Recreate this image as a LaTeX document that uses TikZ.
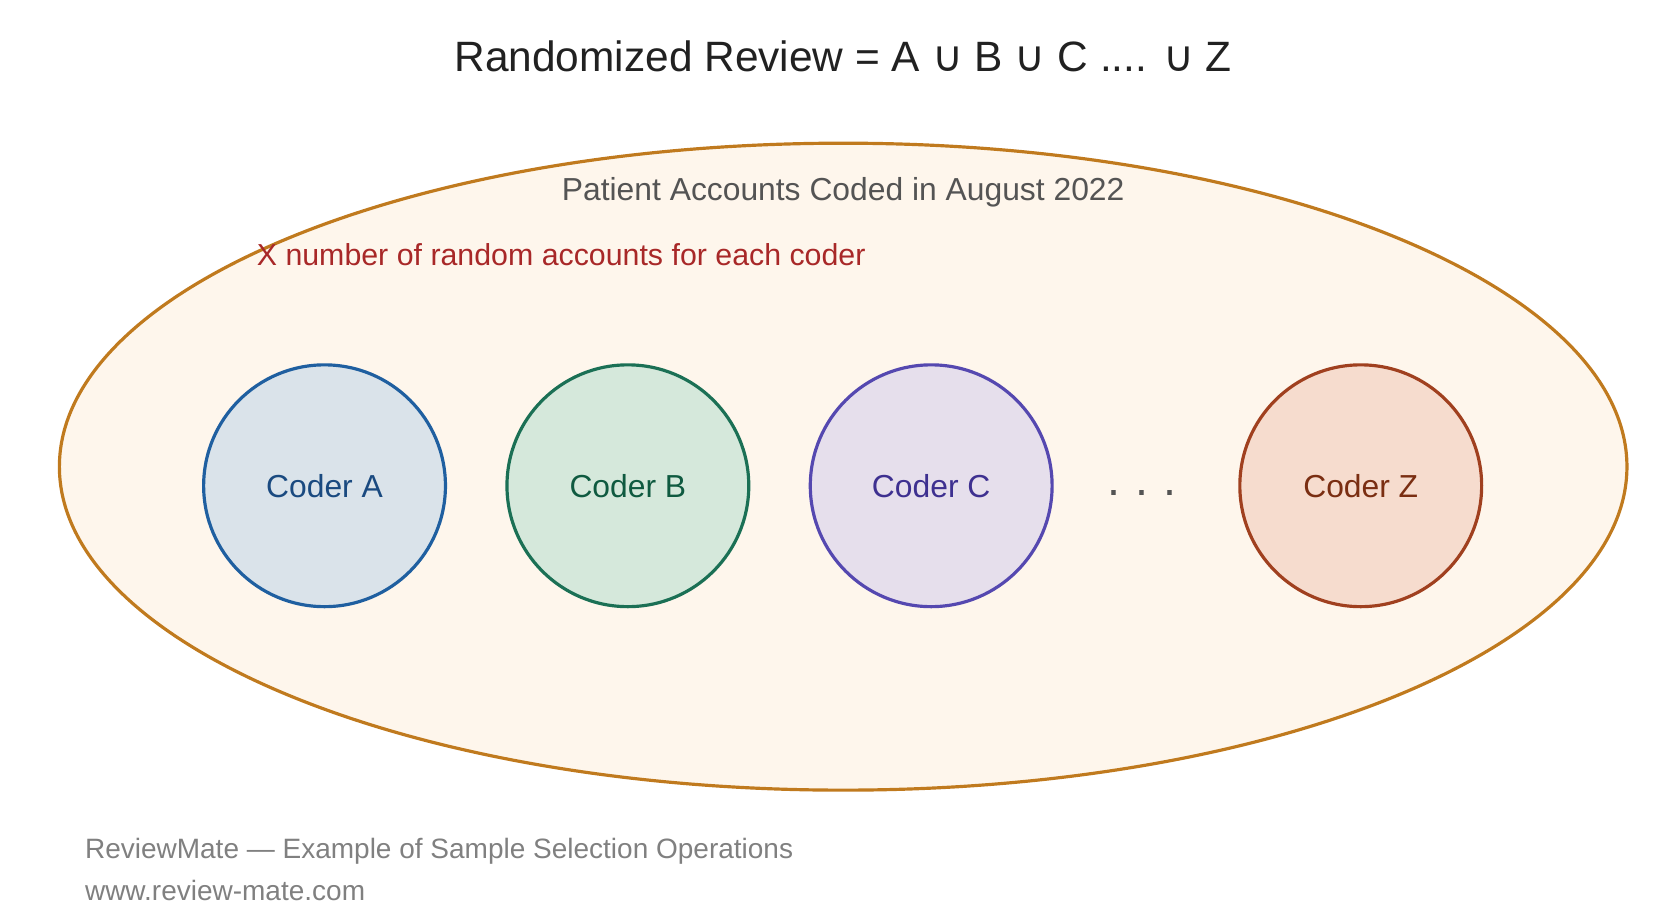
\documentclass[tikz,border=0pt]{standalone}
\usepackage{fontspec}
\setmainfont{Liberation Sans}
\newfontfamily\symf{DejaVu Sans}
\newcommand{\cupsym}{{\symf ∪}}
\usetikzlibrary{shapes.geometric}
\definecolor{ebord}{HTML}{C07A1E}\definecolor{efill}{HTML}{FEF6EC}
\definecolor{aF}{HTML}{DAE3EA}\definecolor{aS}{HTML}{1F5FA0}\definecolor{aT}{HTML}{1A4A80}
\definecolor{bF}{HTML}{D5E8DB}\definecolor{bS}{HTML}{1B7055}\definecolor{bT}{HTML}{0F5A40}
\definecolor{cF}{HTML}{E6DFEC}\definecolor{cS}{HTML}{5548B0}\definecolor{cT}{HTML}{3E3090}
\definecolor{zF}{HTML}{F6DCCE}\definecolor{zS}{HTML}{A0401F}\definecolor{zT}{HTML}{7A2E12}
\definecolor{redt}{HTML}{A82828}
\begin{document}
\begin{tikzpicture}[x=1pt,y=-1pt,
  coder/.style={circle,minimum size=228pt,inner sep=0pt,line width=3pt,font=\fontsize{30}{36}\selectfont}]
\useasboundingbox (0,0) rectangle (1568,865);
\node[text=black!87] (title) at (795,53) {\fontsize{40}{48}\selectfont Randomized Review = A \cupsym\ B \cupsym\ C .... \cupsym\ Z};
\node[ellipse,draw=ebord,fill=efill,line width=3pt,minimum width=1478pt,minimum height=610pt,inner sep=0pt] (univ) at (795,440) {};
\node[text=black!67,font=\fontsize{30}{36}\selectfont] (ulabel) at (795,181) {Patient Accounts Coded in August 2022};
\node[text=redt,font=\fontsize{28.6}{34}\selectfont,anchor=west,inner sep=0pt] (xlabel) at (242,240) {X number of random accounts for each coder};
\node[coder,fill=aF,draw=aS,text=aT] (A) at (306,458) {Coder A};
\node[coder,fill=bF,draw=bS,text=bT] (B) at (592,458) {Coder B};
\node[coder,fill=cF,draw=cS,text=cT] (C) at (878,458) {Coder C};
\node[coder,fill=zF,draw=zS,text=zT] (Z) at (1283,458) {Coder Z};
\node[text=black!67,font=\fontsize{44}{48}\selectfont] (dots) at (1077,465) {.\hspace{14pt}.\hspace{14pt}.};
\node[text=black!50,font=\fontsize{26.4}{30}\selectfont,anchor=west,inner sep=0pt] (f1) at (80,803) {ReviewMate — Example of Sample Selection Operations};
\node[text=black!50,font=\fontsize{26.4}{30}\selectfont,anchor=west,inner sep=0pt] (f2) at (80,840) {www.review-mate.com};
\end{tikzpicture}
\end{document}
